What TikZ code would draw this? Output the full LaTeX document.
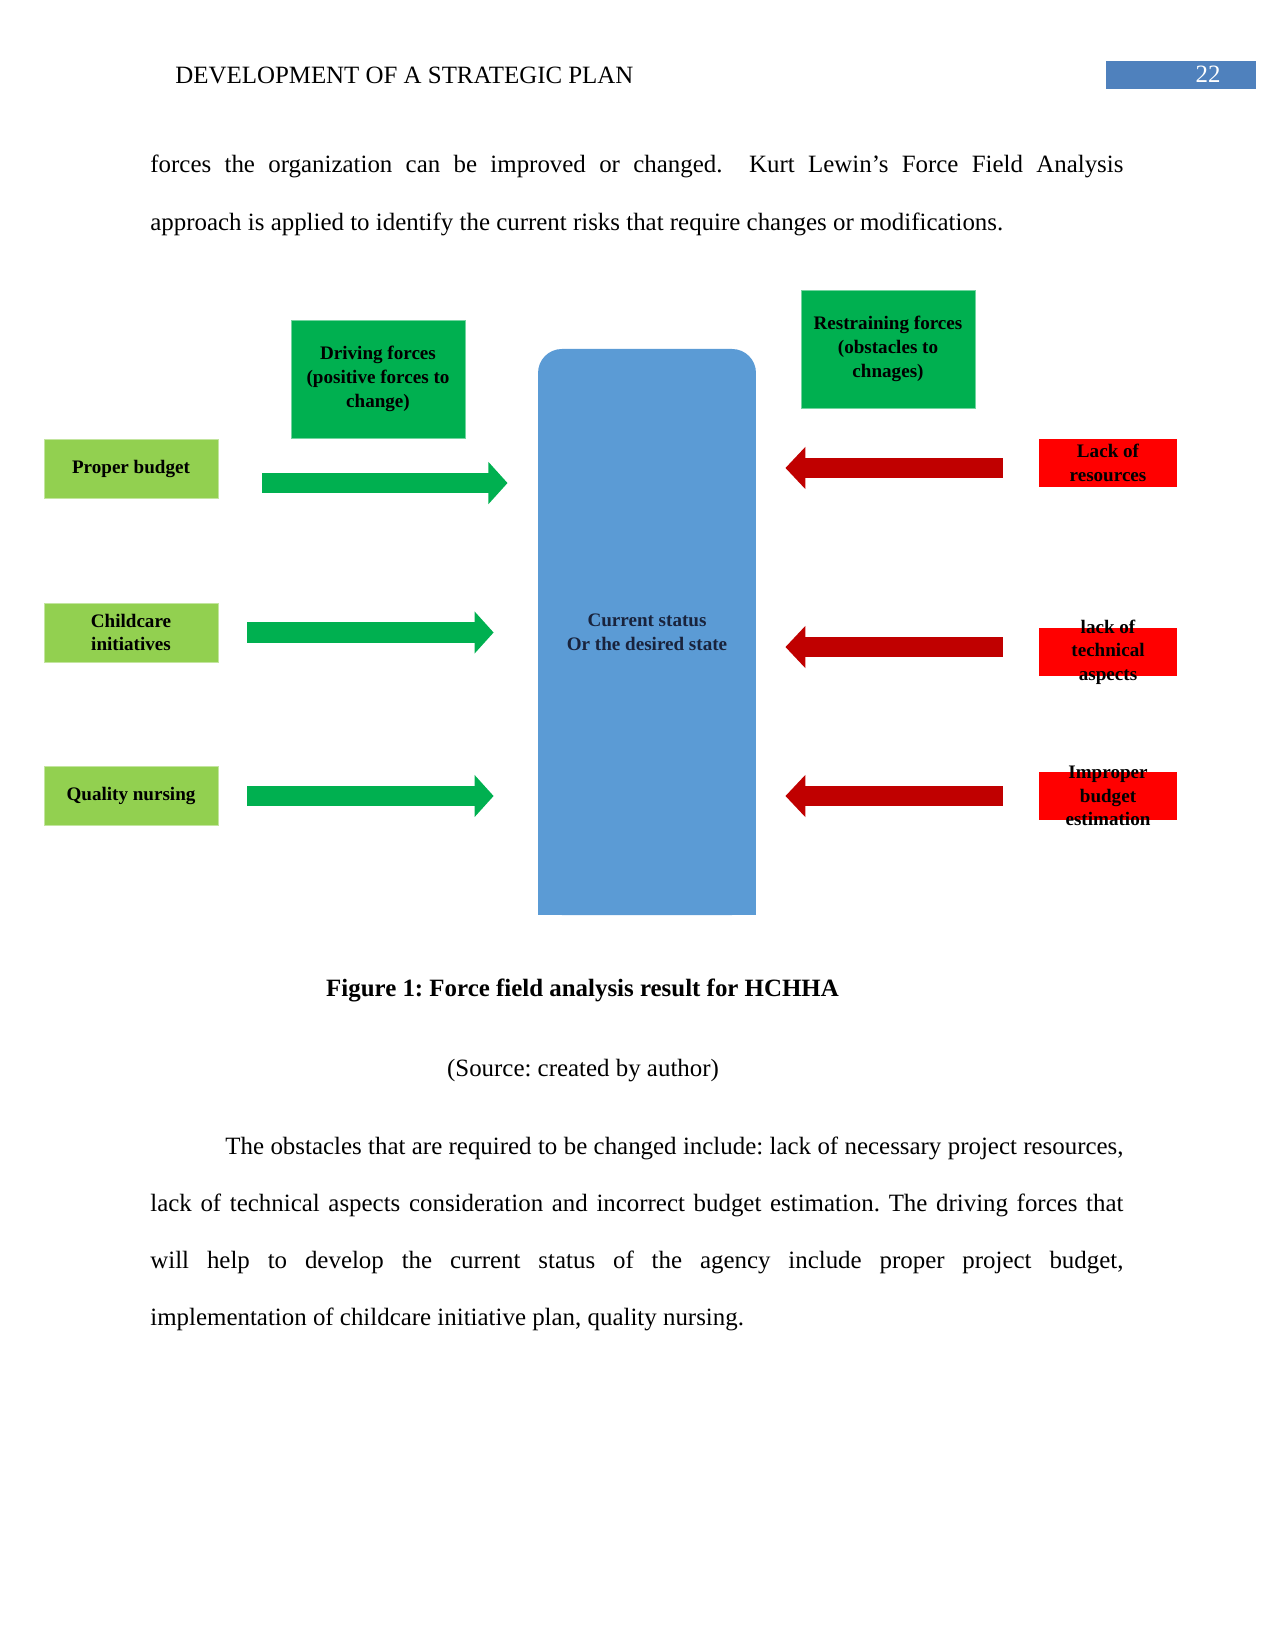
\documentclass[tikz,border=0pt]{standalone}
\usepackage{fontspec}
\setmainfont{Liberation Serif}
\usepackage{tikz}
\usetikzlibrary{arrows.meta,positioning}
\frenchspacing

\definecolor{drvgreen}{RGB}{0,176,80}
\definecolor{lightgreen}{RGB}{146,208,80}
\definecolor{statusblue}{RGB}{91,155,213}
\definecolor{obsred}{RGB}{255,0,0}
\definecolor{arrowred}{RGB}{192,0,0}
\definecolor{headblue}{RGB}{79,129,189}
\definecolor{navytext}{RGB}{25,35,60}

\newcommand{\boxfont}{\fontsize{9.2}{11.4}\selectfont\bfseries}
\newcommand{\bodyfont}{\fontsize{12}{14}\selectfont}

\tikzset{
  heading/.style={
    shape = rectangle,
    fill = drvgreen,
    draw = drvgreen!55!white,
    minimum width = 83.8pt,
    minimum height = 56.9pt,
    inner sep = 0pt,
    align = center,
    font = \boxfont
  },
  driver/.style={
    shape = rectangle,
    fill = lightgreen,
    draw = lightgreen!55!white,
    minimum width = 83.8pt,
    minimum height = 28.4pt,
    inner sep = 0pt,
    align = center,
    font = \boxfont
  },
  obstacle/.style={
    shape = rectangle,
    fill = obsred,
    minimum width = 66.5pt,
    minimum height = 23.3pt,
    inner sep = 0pt
  },
  obstext/.style={
    align = center,
    font = \boxfont,
    inner sep = 0pt
  },
  state/.style={
    fill = statusblue,
    rounded corners = 11.5pt,
    minimum width = 105pt,
    minimum height = 272.7pt,
    inner sep = 0pt
  },
  drive/.style={
    line width = 9.64pt,
    drvgreen,
    -{Triangle[length=9.2pt,width=19.8pt]}
  },
  restrain/.style={
    line width = 9.64pt,
    arrowred,
    -{Triangle[length=9.6pt,width=19.8pt]}
  },
  body/.style={
    anchor = base west,
    inner sep = 0pt,
    font = \bodyfont
  }
}

\begin{document}
\begin{tikzpicture}[x=0.4818pt, y=-0.4818pt]
    \useasboundingbox (0,0) rectangle (1275,1651);
    % page head
    \node[body] (head) at (175,83.3) {DEVELOPMENT OF A STRATEGIC PLAN};
    \node[fill=headblue, minimum width=72.3pt, minimum height=13.4pt, inner sep=0pt] (pg) at (1181,74.9) {};
    \node[font=\bodyfont, text=white, anchor=base, inner sep=0pt] (pgno) at (1208,82.3) {22};
    \node[body] (l1) at (150,173) {\makebox[468.8pt][s]{forces the organization can be improved or changed.\ \ Kurt Lewin's Force Field Analysis}};
    \node[body] (l2) at (150,230.5) {approach is applied to identify the current risks that require changes or modifications.};
    % force field
    \node[heading] (drv) at (378,379) {Driving forces\\(positive forces to\\change)};
    \node[heading] (rst) at (888,349) {Restraining forces\\(obstacles to\\chnages)};
    \node[driver] (pb) at (131,468.5) {Proper budget};
    \node[driver] (ci) at (131,632.5) {Childcare\\initiatives};
    \node[driver] (qn) at (131,796) {Quality nursing};
    \node[state] (now) at (647,632) {};
    \fill[statusblue] (now.west) rectangle (now.south east);
    \node[obstext, text=navytext] (nowtxt) at (now.center) {Current status\\Or the desired state};
    \node[obstacle, label={[obstext]center:Lack of\\resources}] (res) at (1108,463) {};
    \node[obstacle, label={[obstext]center:lack of\\technical\\aspects}] (tec) at (1108,652) {};
    \node[obstacle, label={[obstext]center:Improper\\budget\\estimation}] (imp) at (1108,796) {};
    \coordinate (d1) at ([yshift=-7pt]pb.east);
    \draw[drive, shorten <=21.2pt, shorten >=14.5pt] (d1) -- (d1 -| now.west);
    \foreach \b in {ci,qn}
        \draw[drive, shorten <=14pt, shorten >=21.2pt] (\b.east) -- (\b.east -| now.west);
    \coordinate (r1) at ([yshift=-2.4pt]res.west);
    \coordinate (r2) at ([yshift=2.4pt]tec.west);
    \coordinate (r3) at (imp.west);
    \foreach \r in {r1,r2,r3}
        \draw[restrain, shorten <=17.3pt, shorten >=14pt] (\r) -- (\r -| now.east);
    % caption and text
    \node[font=\bodyfont\bfseries, anchor=base, inner sep=0pt] (cap) at (582.5,996) {Figure 1: Force field analysis result for HCHHA};
    \node[font=\bodyfont, anchor=base, inner sep=0pt] (src) at (583,1076) {(Source: created by author)};
    \node[body] (p1) at (225,1154) {\makebox[432.7pt][s]{The obstacles that are required to be changed include: lack of necessary project resources,}};
    \node[body] (p2) at (150,1211) {\makebox[468.8pt][s]{lack of technical aspects consideration and incorrect budget estimation. The driving forces that}};
    \node[body] (p3) at (150,1268.5) {\makebox[468.8pt][s]{will help to develop the current status of the agency include proper project budget,}};
    \node[body] (p4) at (150,1325.5) {implementation of childcare initiative plan, quality nursing.};
\end{tikzpicture}
\end{document}
